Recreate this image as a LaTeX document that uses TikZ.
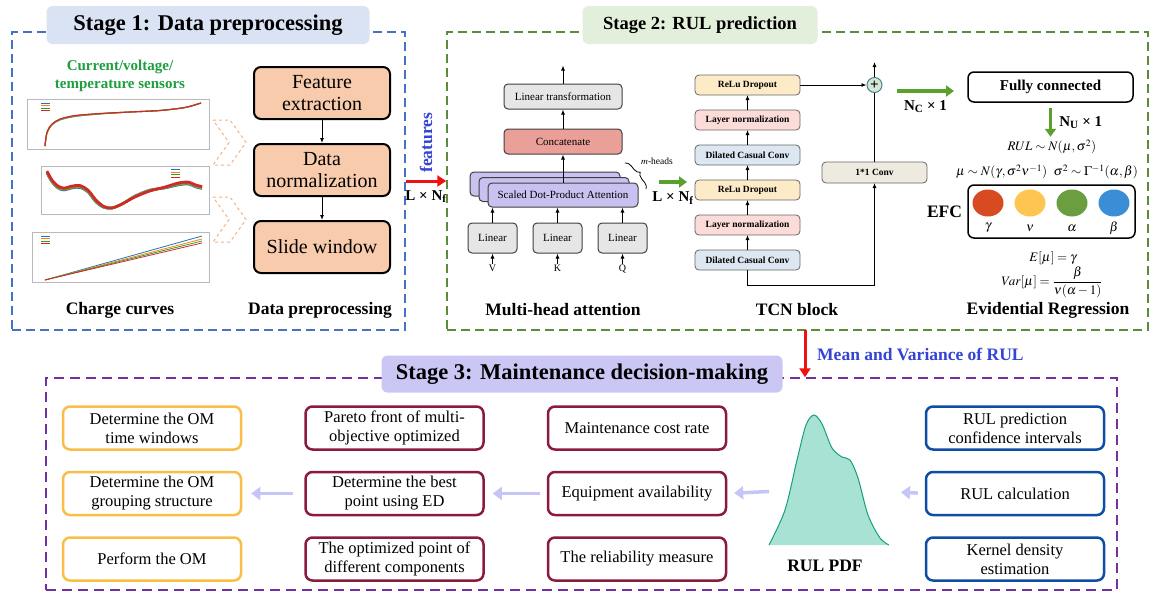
\documentclass[tikz,border=0pt]{standalone}
\usepackage{mathptmx}
\usepackage{fontspec}
\setmainfont{Liberation Serif}
\usetikzlibrary{positioning, arrows.meta, shapes.geometric, decorations.pathreplacing, calc}

\definecolor{s1blue}{HTML}{4472C4}
\definecolor{t1fill}{HTML}{DAE3F3}
\definecolor{s2green}{HTML}{5B8C3A}
\definecolor{t2fill}{HTML}{E2EFDA}
\definecolor{s3purple}{HTML}{7030A0}
\definecolor{t3fill}{HTML}{CBC7F5}
\definecolor{prepfill}{HTML}{F8CBAD}
\definecolor{chevorange}{HTML}{F4B183}
\definecolor{sensorgreen}{HTML}{1E9E3E}
\definecolor{featblue}{HTML}{3344D6}
\definecolor{lingray}{HTML}{E6E6E6}
\definecolor{boxedge}{HTML}{404040}
\definecolor{catred}{HTML}{EA9F99}
\definecolor{sdpafill}{HTML}{C9C2F0}
\definecolor{rdyellow}{HTML}{FDEBC8}
\definecolor{lnpink}{HTML}{FBDCD8}
\definecolor{dccblue}{HTML}{DCE7F1}
\definecolor{convbeige}{HTML}{EEEAE0}
\definecolor{addfill}{HTML}{D5E8D4}
\definecolor{addedge}{HTML}{4F7F8F}
\definecolor{arrowgreen}{HTML}{5AA02C}
\definecolor{arrowred}{HTML}{EE1111}
\definecolor{arrowlav}{HTML}{C7C5F7}
\definecolor{pgamma}{HTML}{D84A22}
\definecolor{pnu}{HTML}{FEC651}
\definecolor{palpha}{HTML}{6A9E40}
\definecolor{pbeta}{HTML}{3B8ED6}
\definecolor{omorange}{HTML}{F9BE48}
\definecolor{crimson}{HTML}{8B1A3E}
\definecolor{planblue}{HTML}{0E4DA4}
\definecolor{pdffill}{HTML}{A8E2D5}
\definecolor{pdfedge}{HTML}{16A07A}
\definecolor{cblue}{HTML}{1F77B4}
\definecolor{corange}{HTML}{FF7F0E}
\definecolor{cgreen}{HTML}{2CA02C}
\definecolor{cred}{HTML}{D62728}

\begin{document}
\begin{tikzpicture}[
    x=1pt, y=-1pt,
    node distance=15pt,
    stageframe/.style={rectangle, line width=1.5pt, dash pattern=on 9pt off 5pt, inner sep=0pt},
    stagetitle/.style={rectangle, rounded corners=6pt, minimum height=38pt, inner sep=0pt, font=\rmfamily\bfseries\fontsize{22.5}{27}\selectfont},
    prep/.style={rectangle, draw, line width=2pt, rounded corners=7pt, fill=prepfill, minimum width=136pt, minimum height=52pt, align=center, inner sep=2pt, font=\rmfamily\fontsize{20}{22}\selectfont},
    capt/.style={font=\rmfamily\bfseries\fontsize{17.5}{20}\selectfont},
    dimlbl/.style={font=\rmfamily\bfseries\fontsize{15}{17}\selectfont, inner sep=1pt},
    mha/.style={rectangle, draw=boxedge, line width=1pt, rounded corners=4pt, minimum height=25pt, inner sep=2pt, font=\rmfamily\fontsize{11}{13}\selectfont},
    sdpa/.style={mha, fill=sdpafill, minimum width=150pt, minimum height=24pt},
    tcn/.style={rectangle, draw=boxedge!80, line width=0.8pt, rounded corners=4pt, minimum width=105pt, minimum height=20pt, inner sep=1pt, outer sep=0pt, font=\rmfamily\bfseries\fontsize{9.5}{11}\selectfont},
    addnode/.style={circle, draw=addedge, line width=1pt, fill=addfill, minimum size=15pt, inner sep=0pt, font=\rmfamily\bfseries\fontsize{15}{15}\selectfont},
    formula/.style={inner sep=1pt, font=\rmfamily\fontsize{13}{15}\selectfont},
    param/.style={ellipse, minimum width=31pt, minimum height=27pt, inner sep=0pt},
    plan/.style={rectangle, draw, line width=2.5pt, rounded corners=7pt, fill=white, minimum width=178pt, minimum height=43pt, align=center, inner sep=2pt, font=\rmfamily\fontsize{16.5}{19}\selectfont},
    chartbox/.style={draw=gray!55, line width=0.6pt},
    curve/.style={line width=1.1pt},
    arrow/.style={-{Latex[length=5pt, width=4pt]}, line width=0.9pt},
    garrow/.style={draw=arrowgreen, line width=3.5pt, -{Triangle[length=8pt, width=11pt]}},
    rarrow/.style={draw=arrowred, line width=3pt, -{Triangle[length=9pt, width=11pt]}},
    larrow/.style={draw=arrowlav, line width=3.5pt, -{Triangle[length=9pt, width=13pt]}},
]
\useasboundingbox (0,0) rectangle (1156,592);

%% FRAMES
    \node[stageframe, draw=s1blue, minimum width=393pt, minimum height=298pt] (stage1) at (208.5,181) {};
    \node[stageframe, draw=s2green, minimum width=701pt, minimum height=298pt] (stage2) at (797.5,181) {};
    \node[stageframe, draw=s3purple, dash pattern=on 10pt off 6pt, minimum width=1071pt, minimum height=212pt] (stage3) at (581.5,484) {};

    \node[stagetitle, fill=t1fill, minimum width=323pt] (title1) at (208,25) {Stage 1: Data preprocessing};
    \node[stagetitle, fill=t2fill, minimum width=235pt, font=\rmfamily\bfseries\fontsize{18.5}{22}\selectfont] (title2) at (700,25) {Stage 2: RUL prediction};
    \node[stagetitle, fill=t3fill, minimum width=401pt, minimum height=37pt] (title3) at (582,374) {Stage 3: Maintenance decision-making};

%% STAGE 1
    \node[font=\rmfamily\bfseries\fontsize{15}{18}\selectfont, text=sensorgreen, align=center] (sensors) at (120,76) {Current/voltage/\\temperature sensors};

    % charge curves
    \draw[chartbox] (27,99) rectangle (209,149);
    \foreach \c/\d in {cblue/0.9, corange/0.6, cgreen/0.3, cred/0}
        \draw[curve, \c] plot[smooth] coordinates {(45,146) (47,{132+\d}) (52,{124+\d}) (60,{119+\d}) (75,{115.5+\d}) (100,{113.5+\d/2}) (130,112) (160,110.5) (185,107.5) (201,103)};
    \foreach \c [count=\i] in {cblue, corange, cgreen, cred}
        \draw[\c, line width=0.9pt] (41,{100.5+2.6*\i}) -- ++(9,0);

    \draw[chartbox] (41,166) rectangle (209,214);
    \foreach \c/\d in {cblue/2, corange/1.2, cgreen/0.6, cred/0}
        \draw[\c, line width=2.6pt, line join=round]
            plot[smooth] coordinates {(47,{171+\d}) (52,{180+\d}) (58,{186+\d}) (64,{188+\d}) (72,{186+\d}) (80,{185.5+\d}) (88,{190+\d}) (96,{200+\d}) (104,{206.5+\d/2}) (112,208) (122,204) (135,{197-\d/2}) (150,{191-\d/2}) (165,{187+\d/2}) (178,{183+\d}) (188,{182+\d}) (196,{185+\d}) (202,{186.5+\d})};
    \foreach \c [count=\i] in {cblue, corange, cgreen, cred}
        \draw[\c, line width=0.9pt] (171,{167+2.6*\i}) -- ++(9,0);

    \draw[chartbox] (32,232) rectangle (209,282);
    \foreach \c/\e in {cblue/236, corange/239, cgreen/241, cred/243}
        \draw[curve, \c, line width=0.8pt] (45,280) -- (202,\e);
    \foreach \c [count=\i] in {cblue, corange, cgreen, cred}
        \draw[\c, line width=0.9pt] (41,{233.5+2.6*\i}) -- ++(9,0);

    % chevrons
    \foreach \t in {120, 197}
        \draw[chevorange, line width=1pt, dashed] (213,\t) -- (230,\t) -- (246,{\t+22.5}) -- (230,{\t+45}) -- (213,{\t+45}) -- (229,{\t+22.5}) -- cycle;

    % data preprocessing
    \node[prep] (feat) at (322,93) {Feature\\extraction};
    \node[prep, below=23pt of feat] (norm) {Data\\normalization};
    \node[prep, below=23pt of norm] (slide) {Slide window};

    \draw[arrow] (feat.south) -- (norm.north);
    \draw[arrow] (norm.south) -- (slide.north);

    \node[capt] (chargecap) at (120,310) {Charge curves};
    \node[capt] (prepcap) at (320,310) {Data preprocessing};

    % stage 1 -> stage 2
    \draw[rarrow] (stage1.east) -- node[below=7pt, dimlbl] (lnf1) {L × N\textsubscript{f}} (stage2.west);
    \node[capt, text=featblue, rotate=90, anchor=west, inner sep=0pt] (feats) at (426,173) {features};

%% STAGE 2
    % multi-head attention
    \node[mha, fill=lingray, minimum width=49pt, minimum height=30pt] (linv) at (492.5,238) {Linear};
    \node[mha, fill=lingray, minimum width=49pt, minimum height=30pt, right=15pt of linv] (link) {Linear};
    \node[mha, fill=lingray, minimum width=49pt, minimum height=30pt, right=15pt of link] (linq) {Linear};

    \node[formula, font=\rmfamily\fontsize{10}{12}\selectfont, below=10pt of linv] (inv) {V};
    \node[formula, font=\rmfamily\fontsize{10}{12}\selectfont, below=10pt of link] (ink) {K};
    \node[formula, font=\rmfamily\fontsize{10}{12}\selectfont, below=10pt of linq] (inq) {Q};

    \node[sdpa] (sdpa3) at (545,184) {};
    \node[sdpa] (sdpa2) at (554,189.5) {};
    \node[sdpa] (sdpa) at (563,195) {Scaled Dot-Product Attention};

    \node[mha, fill=catred, minimum width=118pt] (concat) at (563,141.5) {Concatenate};
    \node[mha, fill=lingray, minimum width=118pt, above=19pt of concat] (lintr) {Linear transformation};
    \coordinate[above=18pt of lintr] (mhaout);

    \draw[arrow] (inv) -- (linv);
    \draw[arrow] (ink) -- (link);
    \draw[arrow] (inq) -- (linq);
    \draw[arrow] (linv.north) -- (linv.north |- sdpa.south);
    \draw[arrow] (link.north) -- (link.north |- sdpa.south);
    \draw[arrow] (linq.north) -- (linq.north |- sdpa.south);
    \draw[arrow] (sdpa.north) -- (concat.south);
    \draw[arrow] (concat.north) -- (lintr.south);
    \draw[arrow] (lintr.north) -- (mhaout);

    \draw[line width=0.8pt, decorate, decoration={brace, amplitude=6pt}] (625,163) -- (646,189);
    \node[formula, font=\rmfamily\fontsize{9.5}{11}\selectfont] (mheads) at (657,161) {$m$-heads};

    \coordinate (ga1) at (659,182);
    \coordinate (ga2) at (687,182);
    \draw[garrow] (ga1) -- node[below=7pt, dimlbl] (lnf2) {L × N\textsubscript{f}} (ga2);

    \node[capt] (mhacap) at (563,310) {Multi-head attention};

    % TCN block
    \node[tcn, fill=dccblue] (dcc1) at (747.5,260) {Dilated Casual Conv};
    \node[tcn, fill=lnpink, above=of dcc1] (ln1) {Layer normalization};
    \node[tcn, fill=rdyellow, above=of ln1] (rd1) {ReLu Dropout};
    \node[tcn, fill=dccblue, above=of rd1] (dcc2) {Dilated Casual Conv};
    \node[tcn, fill=lnpink, above=of dcc2] (ln2) {Layer normalization};
    \node[tcn, fill=rdyellow, above=of ln2] (rd2) {ReLu Dropout};

    \node[tcn, fill=convbeige, minimum height=21pt] (conv) at (874.5,172.5) {1*1 Conv};
    \node[addnode] (add) at (conv |- rd2) {+};
    \coordinate[above=15pt of add] (tcnout);

    \draw[arrow] (dcc1.north) -- (ln1.south);
    \draw[arrow] (ln1.north) -- (rd1.south);
    \draw[arrow] (rd1.north) -- (dcc2.south);
    \draw[arrow] (dcc2.north) -- (ln2.south);
    \draw[arrow] (ln2.north) -- (rd2.south);
    \draw[arrow] (dcc1.south) -- ++(0,15) -| (conv.south);
    \draw[line width=0.9pt] (conv.north) -- (add.south);
    \draw[arrow] (rd2.east) -- (add.west);
    \draw[arrow] (add.north) -- (tcnout);

    \node[capt] (tcncap) at (797,310) {TCN block};

    % evidential regression
    \coordinate (ga3) at (897,91);
    \coordinate (ga4) at (954,91);
    \draw[garrow] (ga3) -- node[below=7pt, dimlbl] (nc) {N\textsubscript{C} × 1} (ga4);

    \node[rectangle, draw, line width=1.5pt, rounded corners=6pt, minimum width=165pt, minimum height=30pt, font=\rmfamily\bfseries\fontsize{15}{17}\selectfont] (fc) at (1050.5,87) {Fully connected};
    \draw[garrow] ([yshift=-5pt]fc.south) -- node[right=6pt, dimlbl] (nu) {N\textsubscript{U} × 1} ([yshift=-34pt]fc.south);

    \node[formula] (rulnorm) at (1052,147) {$RUL \sim N(\mu,\sigma^2)$};
    \node[formula] (priors) at (1047,172) {$\mu \sim N(\gamma,\sigma^2\nu^{-1})\ \ \sigma^2 \sim \Gamma^{-1}(\alpha,\beta)$};

    \node[rectangle, draw, line width=1.5pt, rounded corners=6pt, minimum width=167pt, minimum height=53pt] (efc) at (1051.5,211.5) {};
    \node[capt, left=5pt of efc, inner sep=0pt] (efclbl) {EFC};
    \node[param, fill=pgamma] (pg) at (988,203) {};
    \node[param, fill=pnu] (pn) at (1030,203) {};
    \node[param, fill=palpha] (pa) at (1072,203) {};
    \node[param, fill=pbeta] (pb) at (1114,203) {};
    \node[formula] (lg) at (988,228) {$\gamma$};
    \node[formula] (ln) at (1030,228) {$\nu$};
    \node[formula] (la) at (1072,228) {$\alpha$};
    \node[formula] (lb) at (1114,228) {$\beta$};

    \node[formula] (emu) at (1053,258) {$E[\mu]=\gamma$};
    \node[formula] (varmu) at (1052,282) {${\displaystyle Var[\mu]=\frac{\beta}{\nu(\alpha-1)}}$};

    \node[capt] (evcap) at (1048,310) {Evidential Regression};

%% STAGE 2 -> STAGE 3
    \coordinate (mvtop) at (805,330);
    \draw[rarrow] (mvtop) -- (mvtop |- stage3.north);
    \node[capt, text=featblue, anchor=west, inner sep=0pt] (mvlbl) at (817,354) {Mean and Variance of RUL};

%% STAGE 3
    % operation and maintenance
    \node[plan, draw=omorange] (omwin) at (152,428) {Determine the OM\\time windows};
    \node[plan, draw=omorange, below=20pt of omwin] (omgroup) {Determine the OM\\grouping structure};
    \node[plan, draw=omorange, below=20pt of omgroup] (omdo) {Perform the OM};

    % optimization
    \node[plan, draw=crimson, right=62pt of omwin] (pareto) {Pareto front of multi-\\objective optimized};
    \node[plan, draw=crimson, below=20pt of pareto] (bestpt) {Determine the best\\point using ED};
    \node[plan, draw=crimson, below=20pt of bestpt] (optpt) {The optimized point of\\different components};

    % objectives
    \node[plan, draw=crimson, right=62pt of pareto] (cost) {Maintenance cost rate};
    \node[plan, draw=crimson, below=20pt of cost] (avail) {Equipment availability};
    \node[plan, draw=crimson, below=20pt of avail] (reliab) {The reliability measure};

    % RUL
    \node[plan, draw=planblue] (rulci) at (1015,428) {RUL prediction\\confidence intervals};
    \node[plan, draw=planblue, below=20pt of rulci] (rulcalc) {RUL calculation};
    \node[plan, draw=planblue, below=20pt of rulcalc] (kde) {Kernel density\\estimation};

    % RUL PDF
    \fill[pdffill] plot[smooth] coordinates {(769,545) (785,510) (797,460) (806,425) (814,415) (822,424) (832,448) (842,457) (850,460) (858,478) (868,515) (880,538) (889,545)} -- cycle;
    \draw[pdfedge, line width=1pt] plot[smooth] coordinates {(769,545) (785,510) (797,460) (806,425) (814,415) (822,424) (832,448) (842,457) (850,460) (858,478) (868,515) (880,538) (889,545)};
    \coordinate (pdfL) at (769,491.5);
    \coordinate (pdfR) at (889,491.5);
    \node[capt] (pdfcap) at (825,566) {RUL PDF};

    \draw[larrow, shorten <=7pt, shorten >=12pt] (rulcalc.west) -- (pdfR);
    \draw[larrow, shorten >=7pt] (pdfL) -- (avail.east);
    \draw[larrow, shorten <=7pt, shorten >=8pt] (avail.west) -- (bestpt.east);
    \draw[larrow, shorten <=11pt, shorten >=9pt] (bestpt.west) -- (omgroup.east);

\end{tikzpicture}
\end{document}
